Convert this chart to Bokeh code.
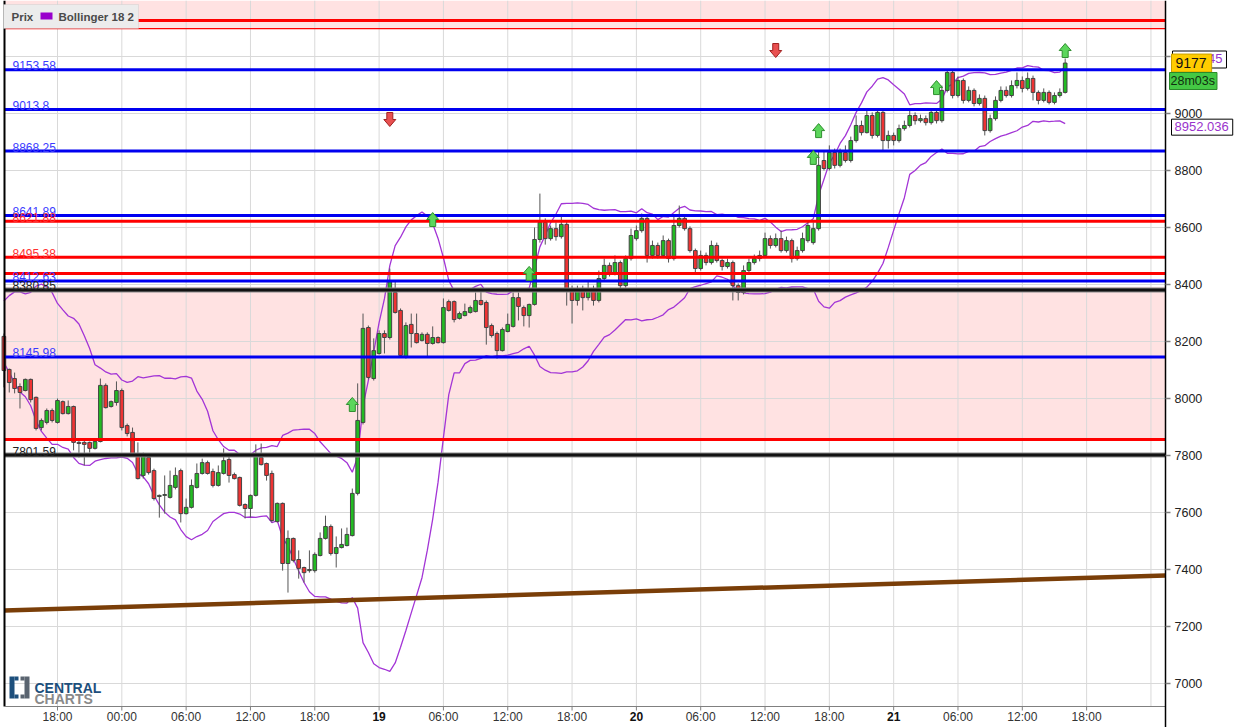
import numpy as np
import pandas as pd
from bokeh.plotting import figure
from bokeh.models import BoxAnnotation, Label, Range1d
from bokeh.core.properties import value
from bokeh.embed import file_html
from bokeh.resources import INLINE

FONT = "Liberation Sans"

# ---------------- data ----------------
start_hour = 13.0        # first candle: 13:00 on day 17 (hours counted from day 17, 00:00)
step_hour = 0.5          # 30-minute candles

opens = [8218, 8102, 8070, 8042, 8028, 8067, 8004, 7898, 7916, 7958,
         7916, 7989, 7947, 7972, 7846, 7846, 7846, 7825, 7849, 8046,
         7972, 7986, 8028, 7905, 7881, 7807, 7730, 7793, 7747, 7656,
         7660, 7653, 7688, 7747, 7596, 7618, 7688, 7737, 7775, 7744,
         7695, 7737, 7786, 7733, 7723, 7628, 7614, 7660, 7793, 7772,
         7737, 7568, 7632, 7421, 7509, 7435, 7407, 7396, 7396, 7449,
         7509, 7551, 7456, 7477, 7484, 7519, 7667, 7916, 8249, 8070,
         8158, 8228, 8214, 8372, 8309, 8144, 8260, 8228, 8204, 8225,
         8193, 8214, 8196, 8340, 8340, 8281, 8291, 8302, 8305, 8344,
         8337, 8256, 8228, 8168, 8235, 8253, 8354, 8319, 8291, 8330,
         8558, 8618, 8561, 8596, 8568, 8611, 8379, 8344, 8379, 8354,
         8386, 8344, 8421, 8467, 8442, 8477, 8396, 8491, 8561, 8589,
         8632, 8502, 8537, 8502, 8554, 8491, 8607, 8632, 8596, 8519,
         8456, 8502, 8477, 8537, 8484, 8463, 8477, 8396, 8372, 8449,
         8477, 8491, 8502, 8561, 8537, 8561, 8519, 8554, 8491, 8519,
         8554, 8547, 8596, 8835, 8807, 8863, 8818, 8863, 8835, 8905,
         8958, 8933, 8993, 8923, 9004, 8905, 8923, 8905, 8947, 8958,
         8993, 8975, 8982, 8968, 9004, 8975, 9081, 9144, 9063, 9116,
         9046, 9081, 9035, 9053, 8940, 8982, 9046, 9081, 9063, 9098,
         9116, 9088, 9123, 9074, 9046, 9074, 9039, 9063, 9074]

closes = [8098, 8056, 8035, 8021, 8067, 7996, 7895, 7923, 7958, 7923,
          7993, 7947, 7972, 7846, 7842, 7839, 7825, 7849, 8046, 7968,
          7989, 8028, 7898, 7877, 7807, 7719, 7807, 7740, 7649, 7660,
          7663, 7695, 7730, 7596, 7618, 7695, 7737, 7775, 7737, 7695,
          7740, 7782, 7730, 7719, 7625, 7614, 7660, 7800, 7768, 7730,
          7572, 7632, 7421, 7509, 7432, 7404, 7389, 7400, 7453, 7509,
          7551, 7456, 7477, 7488, 7523, 7667, 7923, 8246, 8074, 8168,
          8228, 8214, 8410, 8302, 8151, 8256, 8228, 8196, 8225, 8193,
          8214, 8196, 8319, 8309, 8277, 8298, 8305, 8319, 8344, 8330,
          8249, 8221, 8168, 8242, 8260, 8354, 8323, 8291, 8330, 8558,
          8618, 8561, 8596, 8568, 8611, 8379, 8344, 8379, 8354, 8386,
          8344, 8421, 8467, 8442, 8477, 8396, 8491, 8572, 8589, 8632,
          8502, 8537, 8502, 8554, 8491, 8607, 8632, 8596, 8519, 8456,
          8502, 8477, 8537, 8484, 8463, 8477, 8396, 8372, 8449, 8477,
          8491, 8502, 8561, 8537, 8561, 8519, 8554, 8491, 8519, 8561,
          8607, 8596, 8818, 8807, 8863, 8818, 8863, 8835, 8905, 8958,
          8933, 8993, 8923, 9004, 8905, 8923, 8905, 8947, 8958, 8993,
          8975, 8982, 8968, 9004, 8975, 9081, 9144, 9063, 9116, 9046,
          9081, 9035, 9053, 8940, 8982, 9046, 9081, 9063, 9098, 9116,
          9088, 9123, 9074, 9046, 9074, 9039, 9063, 9074, 9177]

highs = [8228, 8105, 8091, 8053, 8070, 8070, 8007, 7930, 7965, 7965,
         8000, 7993, 7993, 7975, 7853, 7853, 7849, 7853, 8070, 8053,
         7993, 8060, 8035, 7912, 7898, 7846, 7810, 7800, 7754, 7663,
         7730, 7747, 7758, 7754, 7649, 7716, 7772, 7789, 7782, 7754,
         7765, 7825, 7800, 7740, 7726, 7632, 7663, 7839, 7842, 7775,
         7747, 7635, 7635, 7537, 7512, 7467, 7410, 7467, 7460, 7530,
         7589, 7558, 7516, 7544, 7547, 7684, 8053, 8298, 8256, 8211,
         8239, 8239, 8456, 8414, 8316, 8267, 8298, 8298, 8232, 8232,
         8253, 8218, 8351, 8347, 8344, 8305, 8333, 8326, 8372, 8389,
         8344, 8263, 8235, 8249, 8298, 8372, 8372, 8326, 8333, 8600,
         8719, 8632, 8607, 8618, 8639, 8625, 8396, 8396, 8396, 8414,
         8396, 8449, 8491, 8477, 8502, 8484, 8502, 8596, 8607, 8649,
         8639, 8554, 8547, 8572, 8561, 8642, 8677, 8639, 8604, 8526,
         8519, 8512, 8554, 8547, 8491, 8491, 8484, 8404, 8467, 8491,
         8505, 8519, 8582, 8572, 8579, 8589, 8568, 8561, 8533, 8582,
         8625, 8618, 8870, 8870, 8888, 8877, 8877, 8888, 8919, 8993,
         8975, 9018, 9004, 9018, 9011, 8940, 8933, 8961, 8975, 9011,
         9004, 8996, 8993, 9018, 9018, 9098, 9151, 9151, 9130, 9123,
         9095, 9088, 9067, 9063, 8996, 9060, 9095, 9095, 9116, 9144,
         9130, 9144, 9133, 9081, 9088, 9081, 9074, 9088, 9193]

lows = [8039, 8021, 8018, 7965, 8025, 7986, 7888, 7888, 7909, 7916,
        7912, 7944, 7944, 7818, 7793, 7765, 7810, 7821, 7846, 7965,
        7968, 7975, 7888, 7867, 7800, 7716, 7719, 7733, 7642, 7582,
        7596, 7649, 7681, 7565, 7593, 7614, 7684, 7733, 7733, 7688,
        7691, 7733, 7705, 7716, 7621, 7579, 7582, 7656, 7765, 7712,
        7565, 7565, 7396, 7319, 7425, 7368, 7354, 7389, 7389, 7446,
        7505, 7449, 7407, 7474, 7481, 7516, 7660, 7909, 8067, 8063,
        8154, 8158, 8207, 8298, 8147, 8140, 8179, 8193, 8200, 8147,
        8189, 8193, 8193, 8305, 8267, 8277, 8288, 8298, 8302, 8326,
        8189, 8214, 8140, 8165, 8232, 8249, 8274, 8253, 8249, 8326,
        8547, 8540, 8554, 8554, 8561, 8326, 8263, 8326, 8309, 8344,
        8326, 8337, 8414, 8428, 8432, 8386, 8389, 8484, 8554, 8582,
        8477, 8491, 8491, 8495, 8477, 8484, 8600, 8589, 8512, 8442,
        8449, 8467, 8470, 8477, 8449, 8456, 8344, 8344, 8365, 8442,
        8470, 8481, 8495, 8526, 8530, 8512, 8512, 8477, 8484, 8512,
        8547, 8540, 8589, 8800, 8800, 8807, 8811, 8828, 8828, 8898,
        8923, 8930, 8912, 8916, 8870, 8877, 8888, 8898, 8940, 8951,
        8961, 8968, 8958, 8961, 8965, 8968, 9074, 9053, 9056, 9035,
        9039, 9025, 9028, 8923, 8933, 8975, 9039, 9056, 9056, 9088,
        9074, 9081, 9046, 9032, 9039, 9032, 9032, 9056, 9070]

# closes before the first visible candle (Bollinger warm-up)
prior_closes = [8190, 8250, 8310, 8280, 8230, 8170, 8200, 8260, 8300,
                8330, 8250, 8220, 8180, 8210, 8260, 8240, 8230]
bb_period = 18
bb_mult = 2

blue_levels = [9153.58, 9013.8, 8868.25, 8641.89, 8412.63, 8145.98]
red_levels = [8621.88, 8495.38]
red_levels_unlabeled = [8438.5, 7856.0]
black_levels = [8380.85, 7801.59]
top_zone_line = 9326.0
top_zone_floor = 9298.0
pink_zone_bottom = 7856.0
pink_zone_top = 8392.0

trend_v_left = 7256.0
trend_v_right = 7379.0

buy_idx = [65, 80, 98, 151, 152, 174, 198]
buy_price = [7979, 8628, 8439, 8846, 8940, 9091, 9221]
sell_idx = [72, 144]
sell_price = [8979, 9221]

x_ticks = [18, 24, 30, 36, 42, 48, 54, 60, 66, 72, 78, 84, 90, 96, 102, 108, 114]
x_labels = ["18:00", "00:00", "06:00", "12:00", "18:00", "19", "06:00", "12:00", "18:00",
            "20", "06:00", "12:00", "18:00", "21", "06:00", "12:00", "18:00"]
day_labels = ["19", "20", "21"]
extra_grid_t = [120]
y_ticks = [7000, 7200, 7400, 7600, 7800, 8000, 8200, 8400, 8600, 8800, 9000, 9200]

last_price_text = "9177"
last_price = 9177
timer_text = "28m03s"
bb_upper_last = 9191.45
bb_lower_last = 8952.036

# ---------------- figure / scales ----------------
W, H = 1234, 727
T_A, T_B = 12.683, 127.795      # visible time span across the canvas
V_A, V_B = 6845.6, 9396.5       # visible price span across the canvas
PX_T = (T_B - T_A) / W
PX_V = (V_B - V_A) / H


def at_x(px):
    return T_A + px * PX_T


def at_y(py):
    return V_B - py * PX_V


t_left, t_right = at_x(4), at_x(1165)
v_bottom, v_top = at_y(706), V_B

p = figure(width=W, height=H, x_range=Range1d(T_A, T_B), y_range=Range1d(V_A, V_B),
           output_backend="svg", toolbar_location=None, x_axis_type=None, y_axis_type=None,
           min_border=0, min_border_left=0, min_border_right=0, min_border_top=0,
           min_border_bottom=0, background_fill_color="white", border_fill_color="white",
           outline_line_color=None)

# zones (under everything)
p.add_layout(BoxAnnotation(left=t_left, right=t_right, bottom=pink_zone_bottom, top=pink_zone_top,
                           fill_color="#ffe2e2", fill_alpha=1, line_color=None, level="underlay"))
p.add_layout(BoxAnnotation(left=t_left, right=t_right, bottom=top_zone_floor, top=v_top,
                           fill_color="#ffe2e2", fill_alpha=1, line_color=None, level="underlay"))

# grid
grid_t = x_ticks + extra_grid_t
p.segment(x0=grid_t, y0=[v_bottom] * len(grid_t), x1=grid_t, y1=[v_top] * len(grid_t),
          line_color="#d9d9d9", line_width=1)
p.segment(x0=[t_left] * len(y_ticks), y0=y_ticks, x1=[t_right] * len(y_ticks), y1=y_ticks,
          line_color="#d9d9d9", line_width=1)

# Bollinger bands
all_c = pd.Series(prior_closes + closes, dtype=float)
mid = all_c.rolling(bb_period).mean()
sd = all_c.rolling(bb_period).std(ddof=0)
upper = (mid + bb_mult * sd).to_numpy()[len(prior_closes):]
lower = (mid - bb_mult * sd).to_numpy()[len(prior_closes):]

n = len(closes)
t = start_hour + step_hour * np.arange(n)
o = np.array(opens, dtype=float)
c = np.array(closes, dtype=float)
hi = np.maximum(np.array(highs, dtype=float), np.maximum(o, c))
lo = np.minimum(np.array(lows, dtype=float), np.minimum(o, c))

p.line(t, upper, line_color="#a335d6", line_width=1.3)
p.line(t, lower, line_color="#a335d6", line_width=1.3)

# trend line
p.line([t_left, t_right], [trend_v_left, trend_v_right], line_color="#7a3e08", line_width=4.5)

# candles
p.segment(t, hi, t, lo, line_color="#555555", line_width=1)
up = c >= o
dn = ~up
body_w = 0.34
p.vbar(x=t[up], width=body_w, top=c[up], bottom=o[up], fill_color="#22bb22",
       line_color="#444444", line_width=1)
p.vbar(x=t[dn], width=body_w, top=o[dn], bottom=c[dn], fill_color="#ee3333",
       line_color="#444444", line_width=1)


# horizontal levels
def hlines(levels, color, width):
    p.segment(x0=[t_left] * len(levels), y0=levels, x1=[t_right] * len(levels), y1=levels,
              line_color=color, line_width=width)


hlines([top_zone_line], "#ff0000", 3)
hlines([top_zone_floor], "#ff0000", 1.2)
hlines(red_levels + red_levels_unlabeled, "#ff0000", 3)
hlines(blue_levels, "#0000f0", 3)
hlines(black_levels, "#8a8a8a", 5)
hlines(black_levels, "#111111", 3)

lab_x = at_x(12)
for levels, col in ((blue_levels, "#3b3bff"), (red_levels, "#ff3030"), (black_levels, "#222222")):
    p.text(x=[lab_x] * len(levels), y=levels, text=[str(v) for v in levels],
           text_font=value(FONT), text_font_size="12px", text_color=col,
           text_baseline="alphabetic", y_offset=-4)

# signal arrows
shape = [(0, 7), (6, 0), (3, 0), (3, -7), (-3, -7), (-3, 0), (-6, 0)]


def arrows(idx, prices, direction):
    xs, ys = [], []
    for i, pv in zip(idx, prices):
        tc = start_hour + step_hour * i
        xs.append([tc + dx * PX_T for dx, dy in shape])
        ys.append([pv + direction * dy * PX_V for dx, dy in shape])
    return xs, ys


bx, by = arrows(buy_idx, buy_price, 1)
sx, sy = arrows(sell_idx, sell_price, -1)
p.patches(bx, by, fill_color="#5cd65c", line_color="#2f8f2f", line_width=1)
p.patches(sx, sy, fill_color="#e85050", line_color="#a02020", line_width=1)

# frame borders / axes (drawn with glyphs, positioned by the chart scales)
p.segment(x0=[t_left], y0=[v_bottom], x1=[t_left], y1=[v_top], line_color="black", line_width=2)
p.segment(x0=[t_left], y0=[v_bottom], x1=[t_right], y1=[v_bottom], line_color="#808080",
          line_width=1.2)
p.segment(x0=[t_right], y0=[at_y(H)], x1=[t_right], y1=[v_top], line_color="black",
          line_width=1.5)
# y axis ticks + labels (right)
p.segment(x0=[t_right] * len(y_ticks), y0=y_ticks, x1=[t_right + 5 * PX_T] * len(y_ticks),
          y1=y_ticks, line_color="#808080", line_width=1.5)
p.text(x=[t_right + 9 * PX_T] * len(y_ticks), y=y_ticks, text=[str(v) for v in y_ticks],
       text_font=value(FONT), text_font_size="12.5px", text_color="#222222",
       text_baseline="middle", text_align="left")
# x axis ticks + labels (bottom)
p.segment(x0=x_ticks, y0=[v_bottom] * len(x_ticks), x1=x_ticks,
          y1=[v_bottom - 4 * PX_V] * len(x_ticks), line_color="#808080", line_width=1)
reg_t = [tk for tk, lab in zip(x_ticks, x_labels) if lab not in day_labels]
reg_l = [lab for lab in x_labels if lab not in day_labels]
day_t = [tk for tk, lab in zip(x_ticks, x_labels) if lab in day_labels]
day_l = [lab for lab in x_labels if lab in day_labels]
p.text(x=reg_t, y=[at_y(716)] * len(reg_t), text=reg_l, text_font=value(FONT),
       text_font_size="12px", text_color="#333333", text_align="center", text_baseline="middle")
p.text(x=day_t, y=[at_y(716)] * len(day_t), text=day_l, text_font=value(FONT),
       text_font_size="12px", text_font_style="bold", text_color="#111111",
       text_align="center", text_baseline="middle")

# legend box (covers the top red line, as in the original)
p.add_layout(BoxAnnotation(left=at_x(3), right=at_x(138), top=at_y(4), bottom=at_y(28),
                           fill_color="#ececec", fill_alpha=1, line_color="#bdbdbd",
                           line_width=1))
p.add_layout(BoxAnnotation(left=at_x(40), right=at_x(52), top=at_y(12), bottom=at_y(19),
                           fill_color="#9900cc", fill_alpha=1, line_color=None))
p.add_layout(Label(x=at_x(11), y=at_y(16), text="Prix", text_font=FONT, text_font_size="11.5px",
                   text_font_style="bold", text_color="#4a4a4a", text_baseline="middle"))
p.add_layout(Label(x=at_x(58), y=at_y(16), text="Bollinger 18 2", text_font=FONT,
                   text_font_size="11.5px", text_font_style="bold", text_color="#4a4a4a",
                   text_baseline="middle"))

# logo
for l_, r_, t_, b_, col in ((9, 14, 676, 698, "#1d4f7c"), (14, 18, 676, 680, "#1d4f7c"),
                            (14, 18, 694, 698, "#1d4f7c"), (24, 29, 676, 698, "#5a6470"),
                            (20, 24, 676, 680, "#5a6470"), (20, 24, 694, 698, "#5a6470")):
    p.add_layout(BoxAnnotation(left=at_x(l_), right=at_x(r_), top=at_y(t_), bottom=at_y(b_),
                               fill_color=col, fill_alpha=1, line_color=None))
p.add_layout(Label(x=at_x(34), y=at_y(687), text="CENTRAL", text_font=FONT,
                   text_font_size="14px", text_font_style="bold", text_color="#1d4f7c",
                   text_baseline="alphabetic"))
p.add_layout(Label(x=at_x(34), y=at_y(698), text="CHARTS", text_font=FONT,
                   text_font_size="14px", text_font_style="bold", text_color="#8a8a8a",
                   text_baseline="alphabetic"))

# right-side value boxes
p.add_layout(Label(x=at_x(1172), y=at_y(59), text=f"{bb_upper_last}", text_font=FONT,
                   text_font_size="13px", text_color="#9933cc", text_baseline="middle",
                   background_fill_color="white", border_line_color="black",
                   padding=(3, 4, 3, 5)))
p.add_layout(Label(x=at_x(1171), y=last_price, text=last_price_text, text_font=FONT,
                   text_font_size="14px", text_color="#111111", text_baseline="middle",
                   background_fill_color="#ffcc00", border_line_color="#c9a000",
                   padding=(4, 5, 4, 4)))
p.add_layout(Label(x=at_x(1169), y=at_y(80.5), text=timer_text, text_font=FONT,
                   text_font_size="12.5px", text_color="#103010", text_baseline="middle",
                   background_fill_color="#44c844", border_line_color="#2a8a2a",
                   padding=(1, 2, 1, 2)))
p.add_layout(Label(x=at_x(1171), y=bb_lower_last, text=f"{bb_lower_last}", text_font=FONT,
                   text_font_size="13px", text_color="#9933cc", text_baseline="middle",
                   background_fill_color="white", border_line_color="black",
                   padding=(3, 4, 3, 4)))

open("out.html", "w").write(file_html(p, INLINE))
